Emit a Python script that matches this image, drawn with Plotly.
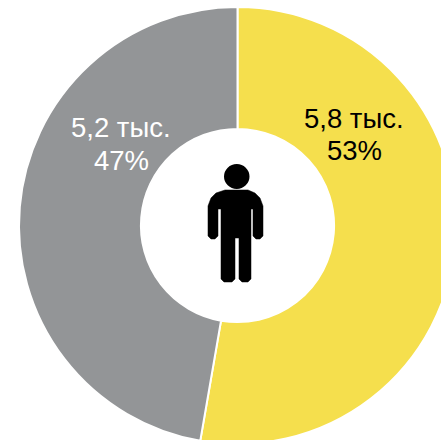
import plotly.graph_objects as go

categories = ["Мужчины", "Женщины"]
values = [5.8, 5.2]
value_labels = ["5,8 тыс.", "5,2 тыс."]
share_labels = ["53%", "47%"]
colors = ["#F5DF4D", "#939597"]
text_colors = ["#000000", "#FFFFFF"]

W, H = 476, 460          # the ring overflows the window, as in the reference
CX, CY, R = 237.5, 225.5, 218.5


def px(x):
    return x / W


def py(y):
    return 1 - y / H


def person_path():
    pts = [
        (225, 190), (248, 190), (255, 193), (260, 198), (263, 206), (263, 236),
        (260, 239), (256, 239), (253, 236), (253, 209), (251, 209), (251, 279),
        (248, 282), (242, 282), (239, 279), (239, 238), (235, 238), (235, 279),
        (232, 282), (224, 282), (221, 279), (221, 209), (218, 209), (218, 236),
        (215, 239), (211, 239), (208, 236), (208, 206), (211, 198), (216, 193),
    ]
    return "M " + " L ".join(f"{px(x):.5f},{py(y):.5f}" for x, y in pts) + " Z"


fig = go.Figure(
    go.Pie(
        labels=categories,
        values=values,
        hole=0.442,
        sort=False,
        direction="clockwise",
        rotation=0,
        marker=dict(colors=colors, line=dict(color="#FFFFFF", width=2)),
        textinfo="none",
        hoverinfo="label+percent",
        showlegend=False,
        domain=dict(
            x=[px(CX - R), px(CX + R)],
            y=[py(CY + R), py(CY - R)],
        ),
    )
)

label_xy = [(354, 118, 150), (121, 128, 160)]
annotations = []
for (x, y1, y2), v, s, c in zip(label_xy, value_labels, share_labels, text_colors):
    for y, t in ((y1, v), (y2, s)):
        annotations.append(
            dict(
                x=px(x), y=py(y), xref="paper", yref="paper",
                text=t, showarrow=False, align="center",
                xanchor="center", yanchor="middle",
                font=dict(family="Liberation Sans, Arial, sans-serif", size=27.5, color=c),
            )
        )

shapes = [
    dict(type="path", xref="paper", yref="paper", path=person_path(),
         fillcolor="#000000", line=dict(color="#000000", width=0.5)),
    dict(type="circle", xref="paper", yref="paper",
         x0=px(224), x1=px(249.5), y0=py(189), y1=py(164),
         fillcolor="#000000", line=dict(color="#000000", width=0)),
]

fig.update_layout(
    width=W, height=H, autosize=False,
    margin=dict(l=0, r=0, t=0, b=0),
    paper_bgcolor="#FFFFFF",
    annotations=annotations,
    shapes=shapes,
)

fig.write_html(
    "out.html",
    config={"displayModeBar": False},
    post_script=(
        "document.documentElement.style.overflow='hidden';"
        "document.body.style.overflow='hidden';document.body.style.margin='0';"
    ),
)
